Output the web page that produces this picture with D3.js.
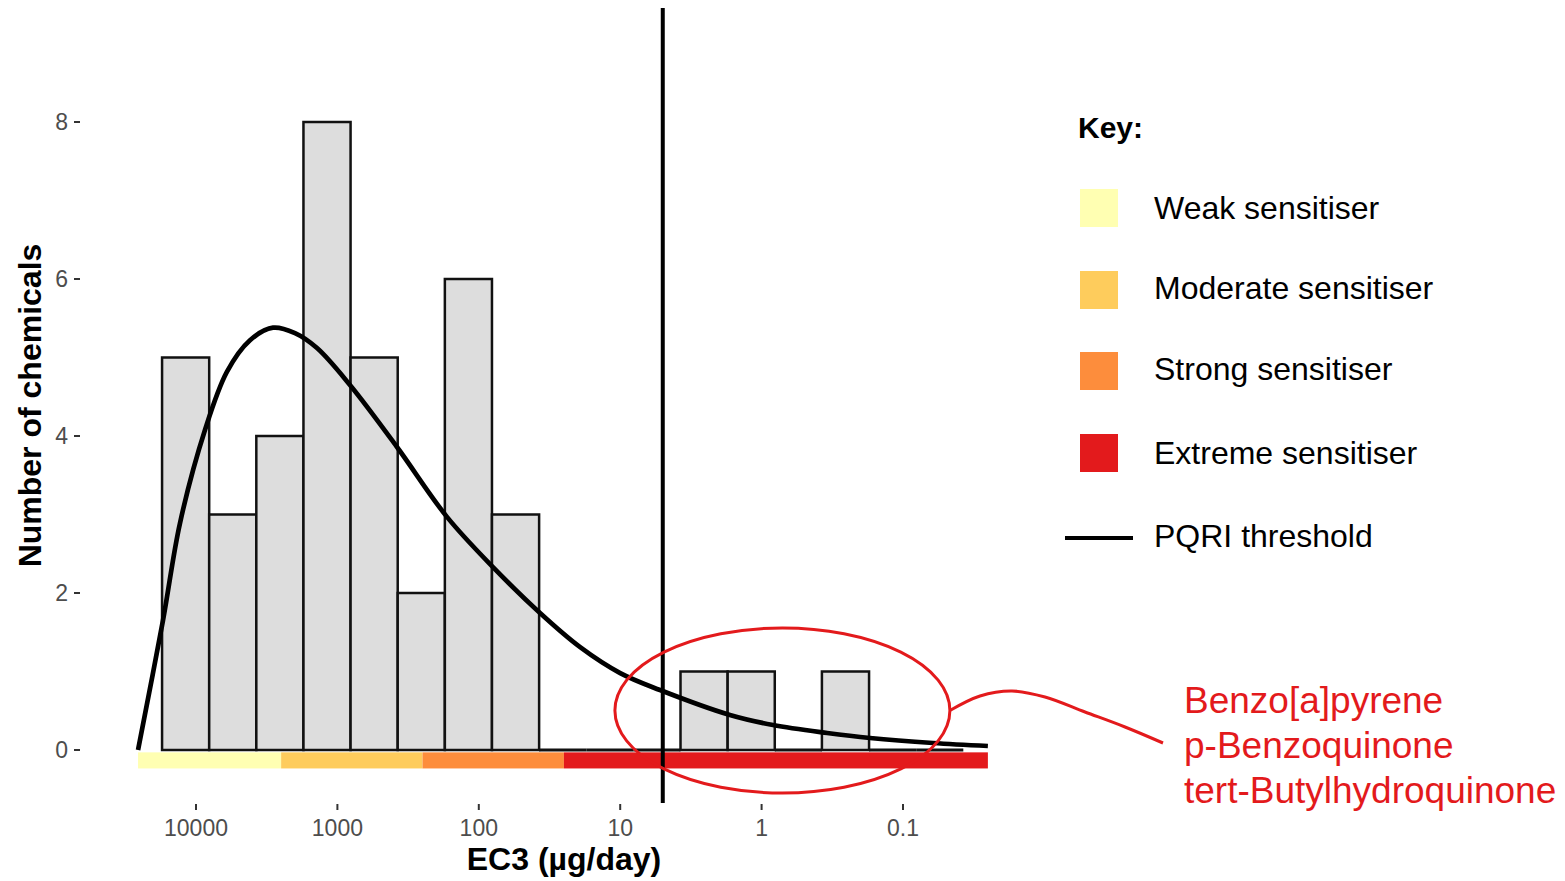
<!DOCTYPE html>
<html>
<head>
<meta charset="utf-8">
<script src="https://cdn.jsdelivr.net/npm/d3@7"></script>
<style>
  html, body { margin: 0; padding: 0; background: #fff; }
  svg { display: block; font-family: "Liberation Sans", Arial, Helvetica, sans-serif; }
</style>
</head>
<body>
<svg id="chart" width="1565" height="881"></svg>
<script>
// ---------------- DATA ----------------
// Histogram bin edges (EC3, µg/day) — 1/3-decade bins
const binEdges = [17378, 8067, 3745, 1738, 807, 374.5, 173.8, 80.7, 37.45, 17.38, 8.07, 3.745, 1.738, 0.807, 0.3745, 0.1738, 0.0807, 0.03745];
// Number of chemicals per bin
const binCounts = [5, 3, 4, 8, 5, 2, 6, 3, 0, 0, 0, 1, 1, 0, 1, 0, 0];

// Fitted density curve (EC3, scaled count)
const curveEC3   = [25700, 17100, 12980, 8630, 6035, 4150, 2853, 1995, 1394, 815, 379, 168, 79.4, 36.9, 19.2, 10.0, 5.23, 1.675, 0.83, 0.344, 0.171, 0.0614, 0.0251];
const curveCount = [0, 1.656, 2.89, 4.08, 4.82, 5.22, 5.38, 5.31, 5.12, 4.65, 3.86, 2.97, 2.33, 1.745, 1.31, 0.98, 0.764, 0.446, 0.318, 0.217, 0.153, 0.089, 0.051];

// Potency categories (EC3 ranges)
const categories = ["Weak sensitiser", "Moderate sensitiser", "Strong sensitiser", "Extreme sensitiser"];
const categoryFrom = [25700, 2500, 250, 25];
const categoryTo   = [2500, 250, 25, 0.0251];
const categoryColors = ["#FFFFB2", "#FECC5C", "#FD8D3C", "#E31A1C"];

// PQRI threshold (µg/day)
const pqriThreshold = 5;

// Axis ticks
const xTickValues = [10000, 1000, 100, 10, 1, 0.1];
const xTickLabels = ["10000", "1000", "100", "10", "1", "0.1"];
const yTickValues = [0, 2, 4, 6, 8];

// Highlighted chemicals
const highlighted = ["Benzo[a]pyrene", "p-Benzoquinone", "tert-Butylhydroquinone"];
const highlightEC3Range = [10.9, 0.0466];
const highlightCountRange = [1.554, -0.548];

// ---------------- LAYOUT ----------------
const svg = d3.select("#chart");
const panel = { left: 80, right: 1048, top: 8, bottom: 803 };

const x = d3.scaleLog().domain([10000, 0.1]).range([196, 903]);
const y = d3.scaleLinear().domain([0, 8]).range([750, 122]);

const red = "#E31A1C";
const axisGray = "#4D4D4D";

// Category strip
const stripTop = -0.03, stripBottom = -0.235;
svg.append("g").selectAll("rect")
  .data(categories)
  .join("rect")
  .attr("x", (d, i) => x(categoryFrom[i]))
  .attr("width", (d, i) => x(categoryTo[i]) - x(categoryFrom[i]))
  .attr("y", y(stripTop))
  .attr("height", y(stripBottom) - y(stripTop))
  .attr("fill", (d, i) => categoryColors[i]);

// Histogram bars
const bins = binCounts.map((c, i) => ({ x0: binEdges[i], x1: binEdges[i + 1], count: c }));
const barG = svg.append("g");
barG.selectAll("rect")
  .data(bins.filter(d => d.count > 0))
  .join("rect")
  .attr("x", d => x(d.x0))
  .attr("width", d => x(d.x1) - x(d.x0))
  .attr("y", d => y(d.count))
  .attr("height", d => y(0) - y(d.count))
  .attr("fill", "#DDDDDD")
  .attr("stroke", "#111")
  .attr("stroke-width", 2.5);
// empty bins are drawn as flat outlines on the baseline
barG.selectAll("line")
  .data(bins.filter(d => d.count === 0))
  .join("line")
  .attr("x1", d => x(d.x0)).attr("x2", d => x(d.x1))
  .attr("y1", y(0)).attr("y2", y(0))
  .attr("stroke", "#111")
  .attr("stroke-width", 3);

// Density curve
const pts = curveEC3.map((v, i) => [x(v), y(curveCount[i])]);
svg.append("path")
  .attr("d", d3.line().curve(d3.curveCatmullRom.alpha(0.5))(pts))
  .attr("fill", "none")
  .attr("stroke", "#000")
  .attr("stroke-width", 4.7);

// PQRI threshold line
svg.append("line")
  .attr("x1", x(pqriThreshold)).attr("x2", x(pqriThreshold))
  .attr("y1", panel.top).attr("y2", panel.bottom)
  .attr("stroke", "#000").attr("stroke-width", 4);

// Y axis
const yAxis = svg.append("g");
yAxis.selectAll("line").data(yTickValues).join("line")
  .attr("x1", 74).attr("x2", 80)
  .attr("y1", d => y(d)).attr("y2", d => y(d))
  .attr("stroke", "#333").attr("stroke-width", 2);
yAxis.selectAll("text").data(yTickValues).join("text")
  .attr("x", 68).attr("y", d => y(d))
  .attr("dy", "0.36em")
  .attr("text-anchor", "end")
  .attr("fill", axisGray)
  .attr("font-size", 23)
  .text(d => d);

// X axis
const xAxis = svg.append("g");
xAxis.selectAll("line").data(xTickValues).join("line")
  .attr("x1", d => x(d)).attr("x2", d => x(d))
  .attr("y1", 804).attr("y2", 810)
  .attr("stroke", "#333").attr("stroke-width", 2);
xAxis.selectAll("text").data(xTickValues).join("text")
  .attr("x", d => x(d)).attr("y", 836)
  .attr("text-anchor", "middle")
  .attr("fill", axisGray)
  .attr("font-size", 23)
  .text((d, i) => xTickLabels[i]);

// Axis titles
svg.append("text")
  .attr("x", (panel.left + panel.right) / 2).attr("y", 870)
  .attr("text-anchor", "middle")
  .attr("font-weight", "bold").attr("font-size", 32)
  .text("EC3 (µg/day)");
svg.append("text")
  .attr("transform", `translate(41,${(panel.top + panel.bottom) / 2}) rotate(-90)`)
  .attr("text-anchor", "middle")
  .attr("font-weight", "bold").attr("font-size", 32)
  .text("Number of chemicals");

// Legend
const lg = svg.append("g");
lg.append("text").attr("x", 1078).attr("y", 138)
  .attr("font-weight", "bold").attr("font-size", 30).text("Key:");
const swatchY = [208, 290, 371, 453];
const labelY = [208, 288, 369, 453];
lg.selectAll("rect.sw").data(categories).join("rect")
  .attr("class", "sw")
  .attr("x", 1080).attr("width", 38)
  .attr("y", (d, i) => swatchY[i] - 19).attr("height", 38)
  .attr("fill", (d, i) => categoryColors[i]);
lg.selectAll("text.lab").data(categories).join("text")
  .attr("class", "lab")
  .attr("x", 1154).attr("y", (d, i) => labelY[i])
  .attr("dy", "0.35em")
  .attr("font-size", 32)
  .text(d => d);
lg.append("line").attr("x1", 1065).attr("x2", 1133).attr("y1", 538).attr("y2", 538)
  .attr("stroke", "#000").attr("stroke-width", 4);
lg.append("text").attr("x", 1154).attr("y", 536).attr("dy", "0.35em")
  .attr("font-size", 32).text("PQRI threshold");

// Highlight ellipse
const ex0 = x(highlightEC3Range[0]), ex1 = x(highlightEC3Range[1]);
const ey0 = y(highlightCountRange[0]), ey1 = y(highlightCountRange[1]);
svg.append("ellipse")
  .attr("cx", (ex0 + ex1) / 2).attr("cy", (ey0 + ey1) / 2)
  .attr("rx", (ex1 - ex0) / 2).attr("ry", (ey1 - ey0) / 2)
  .attr("fill", "none").attr("stroke", red).attr("stroke-width", 3);

// Connector
const ecx = ex1, ecy = (ey0 + ey1) / 2;
const conn = [[ecx, ecy], [980, 696], [1012, 691], [1045, 697], [1085, 712], [1125, 727], [1163, 743]];
svg.append("path")
  .attr("d", d3.line().curve(d3.curveCatmullRom.alpha(0.5))(conn))
  .attr("fill", "none").attr("stroke", red).attr("stroke-width", 3);

// Highlight labels
svg.append("g").selectAll("text").data(highlighted).join("text")
  .attr("x", 1184).attr("y", (d, i) => 713 + i * 45)
  .attr("fill", red).attr("font-size", 37)
  .text(d => d);
</script>
</body>
</html>
